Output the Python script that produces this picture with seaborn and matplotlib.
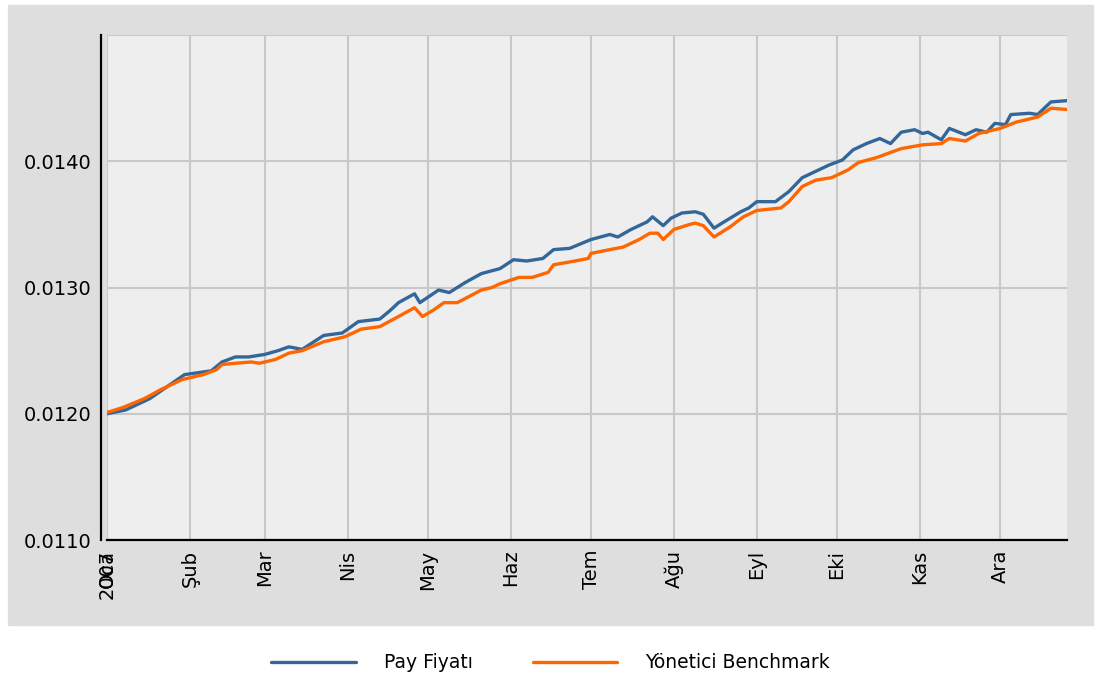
import pandas as pd
import matplotlib.pyplot as plt
from matplotlib.patches import Rectangle
import seaborn as sns

# fund price (Pay Fiyatı)
pay_dates = ["2007-01-01", "2007-01-08", "2007-01-17", "2007-01-30", "2007-02-09",
             "2007-02-13", "2007-02-18", "2007-02-23", "2007-03-01", "2007-03-06",
             "2007-03-10", "2007-03-15", "2007-03-23", "2007-03-30", "2007-04-05",
             "2007-04-13", "2007-04-17", "2007-04-20", "2007-04-26", "2007-04-28",
             "2007-05-05", "2007-05-09", "2007-05-15", "2007-05-21", "2007-05-28",
             "2007-06-02", "2007-06-07", "2007-06-13", "2007-06-17", "2007-06-23",
             "2007-07-01", "2007-07-08", "2007-07-11", "2007-07-16", "2007-07-22",
             "2007-07-24", "2007-07-28", "2007-07-31", "2007-08-04", "2007-08-09",
             "2007-08-12", "2007-08-16", "2007-08-19", "2007-08-26", "2007-08-29",
             "2007-09-01", "2007-09-08", "2007-09-13", "2007-09-18", "2007-09-22",
             "2007-09-28", "2007-10-03", "2007-10-07", "2007-10-12", "2007-10-17",
             "2007-10-21", "2007-10-25", "2007-10-30", "2007-11-02", "2007-11-04",
             "2007-11-09", "2007-11-12", "2007-11-18", "2007-11-22", "2007-11-26",
             "2007-11-29", "2007-12-03", "2007-12-05", "2007-12-12", "2007-12-15",
             "2007-12-20", "2007-12-26"]
pay_values = [0.01200, 0.01203, 0.01212, 0.01231, 0.01234,
              0.01241, 0.01245, 0.01245, 0.01247, 0.01250,
              0.01253, 0.01251, 0.01262, 0.01264, 0.01273,
              0.01275, 0.01282, 0.01288, 0.01295, 0.01288,
              0.01298, 0.01296, 0.01304, 0.01311, 0.01315,
              0.01322, 0.01321, 0.01323, 0.01330, 0.01331,
              0.01338, 0.01342, 0.01340, 0.01346, 0.01352,
              0.01356, 0.01349, 0.01355, 0.01359, 0.01360,
              0.01358, 0.01347, 0.01351, 0.01360, 0.01363,
              0.01368, 0.01368, 0.01376, 0.01387, 0.01391,
              0.01397, 0.01401, 0.01409, 0.01414, 0.01418,
              0.01414, 0.01423, 0.01425, 0.01422, 0.01423,
              0.01417, 0.01426, 0.01421, 0.01425, 0.01423,
              0.01430, 0.01429, 0.01437, 0.01438, 0.01437,
              0.01447, 0.01448]

# benchmark (Yönetici Benchmark)
bench_dates = ["2007-01-01", "2007-01-07", "2007-01-15", "2007-01-21", "2007-01-29",
               "2007-02-06", "2007-02-11", "2007-02-13", "2007-02-18", "2007-02-24",
               "2007-02-27", "2007-03-05", "2007-03-10", "2007-03-15", "2007-03-23",
               "2007-03-31", "2007-04-06", "2007-04-13", "2007-04-20", "2007-04-26",
               "2007-04-29", "2007-05-03", "2007-05-07", "2007-05-12", "2007-05-21",
               "2007-05-25", "2007-05-28", "2007-06-04", "2007-06-09", "2007-06-15",
               "2007-06-17", "2007-06-25", "2007-06-30", "2007-07-01", "2007-07-08",
               "2007-07-13", "2007-07-19", "2007-07-23", "2007-07-26", "2007-07-28",
               "2007-08-01", "2007-08-07", "2007-08-09", "2007-08-12", "2007-08-16",
               "2007-08-22", "2007-08-27", "2007-09-01", "2007-09-10", "2007-09-13",
               "2007-09-18", "2007-09-23", "2007-09-29", "2007-10-05", "2007-10-09",
               "2007-10-16", "2007-10-21", "2007-10-25", "2007-11-02", "2007-11-09",
               "2007-11-12", "2007-11-18", "2007-11-23", "2007-12-01", "2007-12-07",
               "2007-12-15", "2007-12-20", "2007-12-26"]
bench_values = [0.01201, 0.01205, 0.01212, 0.01219, 0.01227,
                0.01231, 0.01235, 0.01239, 0.01240, 0.01241,
                0.01240, 0.01243, 0.01248, 0.01250, 0.01257,
                0.01261, 0.01267, 0.01269, 0.01277, 0.01284,
                0.01277, 0.01282, 0.01288, 0.01288, 0.01298,
                0.01300, 0.01303, 0.01308, 0.01308, 0.01312,
                0.01318, 0.01321, 0.01323, 0.01327, 0.01330,
                0.01332, 0.01338, 0.01343, 0.01343, 0.01338,
                0.01346, 0.01350, 0.01351, 0.01349, 0.01340,
                0.01348, 0.01356, 0.01361, 0.01363, 0.01368,
                0.01380, 0.01385, 0.01387, 0.01393, 0.01399,
                0.01403, 0.01407, 0.01410, 0.01413, 0.01414,
                0.01418, 0.01416, 0.01422, 0.01426, 0.01431,
                0.01435, 0.01442, 0.01441]

month_labels = ["Oca", "Şub", "Mar", "Nis", "May", "Haz",
                "Tem", "Ağu", "Eyl", "Eki", "Kas", "Ara"]
y_ticks = [0.0110, 0.0120, 0.0130, 0.0140, 0.0150]
y_labels = ["0.0110", "0.0120", "0.0130", "0.0140", ""]
y_minor = [0.0115, 0.0125, 0.0135, 0.0145]

sns.set_style("white")
plt.rcParams["font.family"] = ["DejaVu Sans"]

fig = plt.figure(figsize=(11.01, 6.82), dpi=100)
fig.patch.set_facecolor("white")
# grey panel behind the chart
fig.patches.append(Rectangle((8 / 1101, 57 / 682), 1085 / 1101, 620 / 682,
                             transform=fig.transFigure, color="#dedede", zorder=-10))

ax = fig.add_axes([107 / 1101, 142 / 682, 960 / 1101, 505 / 682])
ax.set_zorder(1)
ax.set_facecolor("#eeeeee")

sns.lineplot(x=pd.to_datetime(pay_dates), y=pay_values, ax=ax,
             color="#336699", lw=2.4, label="Pay Fiyatı")
sns.lineplot(x=pd.to_datetime(bench_dates), y=bench_values, ax=ax,
             color="#ff6600", lw=2.4, label="Yönetici Benchmark")

# axes limits / ticks
ax.set_xlim(pd.Timestamp("2007-01-01"), pd.Timestamp("2007-12-26"))
ax.set_ylim(0.0110, 0.0150)
month_starts = pd.date_range("2007-01-01", periods=12, freq="MS")
ax.set_xticks(month_starts, month_labels)
# the year label sits on top of "Oca", like in the original
ax.xaxis.remove_overlapping_locs = False
ax.set_xticks([pd.Timestamp("2007-01-01")], ["2007"], minor=True)
ax.set_yticks(y_ticks, y_labels)
ax.set_yticks(y_minor, minor=True)
ax.tick_params(axis="x", which="both", length=0, pad=7, labelsize=14,
               labelrotation=90, labelcolor="black")
ax.tick_params(axis="y", which="both", direction="inout", length=7,
               width=1.5, color="black", pad=4, labelsize=14,
               labelcolor="black")

ax.grid(True, which="major", color="#c8c8c8", lw=1.5)
ax.set_xlabel("")
ax.set_ylabel("")

for side in ["top", "right"]:
    ax.spines[side].set_visible(False)
ax.spines["left"].set_color("black")
ax.spines["left"].set_linewidth(1.6)
ax.spines["left"].set_position(("outward", 4))
ax.spines["bottom"].set_color("black")
ax.spines["bottom"].set_linewidth(1.6)

# legend at the bottom, in the white band
handles, labels = ax.get_legend_handles_labels()
ax.get_legend().remove()
leg = fig.legend(handles, labels, loc="center", bbox_to_anchor=(0.5, 19 / 682),
                 ncol=2, frameon=False, fontsize=13.5, handlelength=4.5,
                 handletextpad=1.5, columnspacing=3.2)
for t in leg.get_texts():
    t.set_color("black")

fig.savefig("out.png", dpi=100)
